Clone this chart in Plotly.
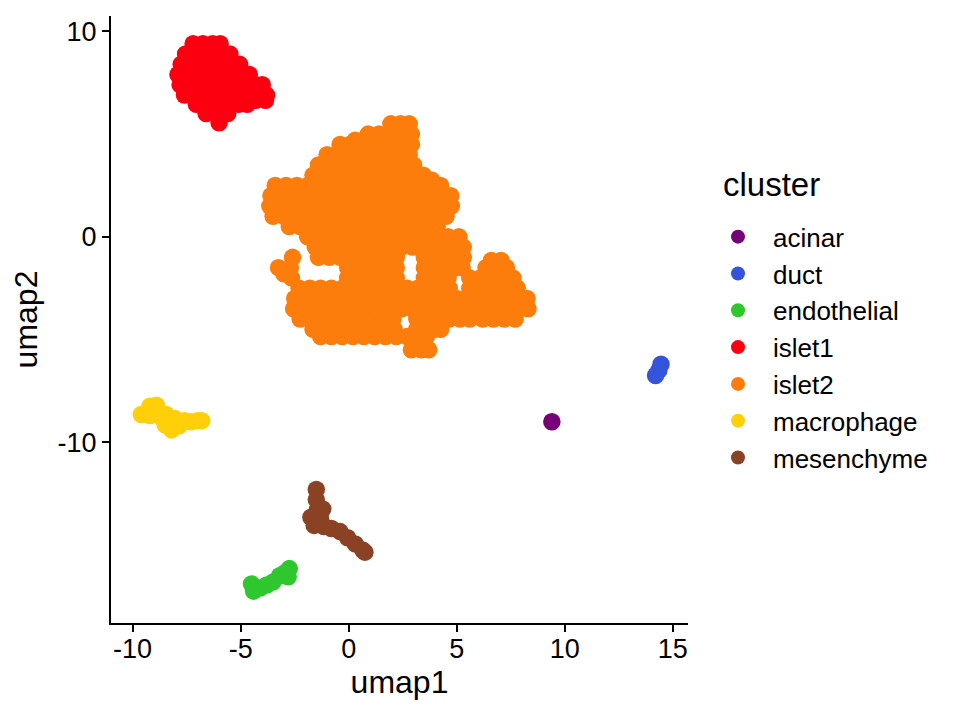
import plotly.graph_objects as go

# ---------------- data ----------------
clusters = ["acinar", "duct", "endothelial", "islet1", "islet2", "macrophage", "mesenchyme"]
colors = ["#770077", "#3454DC", "#2EC82E", "#FC0010", "#FC7D0C", "#FFD00A", "#8B4224"]

acinar_x = [9.4]
acinar_y = [-9.0]

duct_x = [14.45, 14.35, 14.2]
duct_y = [-6.2, -6.5, -6.75]

endothelial_x = [-4.5, -4.4, -4.1, -3.8, -3.5, -3.2, -2.95, -2.75, -2.8]
endothelial_y = [-16.9, -17.25, -17.1, -16.95, -16.8, -16.5, -16.35, -16.15, -16.55]

macrophage_x = [-9.6, -9.2, -8.9, -9.2, -8.8, -8.45, -8.5, -8.2, -8.05, -7.85, -7.6, -7.3, -7.0, -6.8]
macrophage_y = [-8.65, -8.25, -8.2, -8.7, -8.7, -8.65, -9.15, -9.4, -8.85, -9.2, -8.95, -9.0, -8.95, -8.95]

mesenchyme_x = [-1.5, -1.5, -1.45, -1.2, -1.75, -1.3, -1.6, -1.15, -0.8, -0.4, -0.05, 0.3, 0.65, 0.75]
mesenchyme_y = [-12.3, -12.8, -13.3, -13.25, -13.65, -13.75, -14.05, -14.1, -14.2, -14.35, -14.65, -14.95, -15.25, -15.35]

# islet1: rows of (umap2, [umap1 values])
islet1_rows = [
    (9.4, [-7.2, -6.75, -6.3, -5.95]),
    (8.9, [-7.55, -7.05, -6.55, -6.05, -5.5]),
    (8.4, [-7.75, -7.25, -6.75, -6.25, -5.75, -5.25, -5.05]),
    (7.9, [-7.9, -7.4, -6.9, -6.4, -5.9, -5.4, -4.9, -4.6]),
    (7.4, [-7.8, -7.3, -6.8, -6.3, -5.8, -5.3, -4.8, -4.3, -4.0]),
    (6.9, [-7.6, -7.1, -6.6, -6.1, -5.6, -5.1, -4.6, -4.1, -3.8]),
    (6.65, [-4.3, -3.85]),
    (6.45, [-7.05, -6.6, -6.1, -5.6, -5.1, -4.7]),
    (6.0, [-6.6, -6.1, -5.6]),
    (5.55, [-6.0]),
]

# islet2: rows of (umap2, [umap1 values])
islet2_rows = [
    (5.5, [1.95, 2.4, 2.8]),
    (5.0, [0.9, 1.4, 1.9, 2.4, 2.9]),
    (4.7, [0.3]),
    (4.5, [-0.4, 0.05, 0.5, 0.95, 1.45, 1.95, 2.45, 2.9]),
    (4.0, [-1.0, -0.5, 0.0, 0.5, 1.0, 1.5, 2.0, 2.5, 2.8]),
    (3.5, [-1.4, -0.9, -0.4, 0.1, 0.6, 1.1, 1.6, 2.1, 2.6, 3.0]),
    (3.0, [-1.65, -1.15, -0.65, -0.15, 0.35, 0.85, 1.35, 1.85, 2.35, 2.85, 3.45]),
    (2.75, [3.85]),
    (2.5, [-3.4, -2.9, -2.4, -1.9, -1.4, -0.9, -0.4, 0.1, 0.6, 1.1, 1.6, 2.1, 2.6, 3.1, 3.6, 4.0, 4.25]),
    (2.0, [-3.6, -3.1, -2.6, -2.1, -1.6, -1.1, -0.6, -0.1, 0.4, 0.9, 1.4, 1.9, 2.4, 2.9, 3.4, 3.9, 4.35, 4.72]),
    (1.5, [-3.65, -3.15, -2.65, -2.15, -1.65, -1.15, -0.65, -0.15, 0.35, 0.85, 1.35, 1.85, 2.35, 2.85, 3.35, 3.85, 4.35, 4.75]),
    (1.0, [-3.5, -3.0, -2.5, -2.0, -1.5, -1.0, -0.5, 0.0, 0.5, 1.0, 1.5, 2.0, 2.5, 3.0, 3.5, 4.0, 4.5]),
    (0.5, [-2.75, -2.25, -1.75, -1.25, -0.75, -0.25, 0.25, 0.75, 1.25, 1.75, 2.25, 2.75, 3.25, 3.75, 4.1]),
    (0.0, [-1.9, -1.4, -0.9, -0.4, 0.1, 0.6, 1.1, 1.6, 2.1, 2.6, 3.1, 3.6, 4.1, 4.6, 5.1]),
    (-0.5, [-1.55, -1.05, -0.55, -0.05, 0.45, 0.95, 1.45, 1.95, 2.45, 2.95, 3.45, 3.95, 4.45, 4.9, 5.3]),
    (-1.0, [-2.6, -1.4, -0.9, -0.4, 0.1, 0.6, 1.1, 1.6, 2.2, 3.5, 4.0, 4.5, 4.95, 5.3]),
    (-1.15, [6.6, 7.05]),
    (-1.5, [-3.25, -2.7, -0.05, 0.45, 0.95, 1.45, 1.95, 2.2, 3.5, 4.0, 4.5, 4.95, 5.25, 6.35, 6.85, 7.3]),
    (-1.8, [-3.0]),
    (-2.0, [-2.65, -0.05, 0.45, 0.95, 1.45, 1.95, 2.2, 3.5, 4.0, 4.6, 5.6, 6.1, 6.6, 7.1, 7.6]),
    (-2.5, [-2.3, -1.8, -1.3, -0.8, -0.3, 0.2, 0.7, 1.2, 1.7, 2.2, 2.7, 3.2, 3.7, 4.2, 4.65, 5.6, 6.1, 6.6, 7.1, 7.5, 7.8]),
    (-3.0, [-2.5, -2.0, -1.5, -1.0, -0.5, 0.0, 0.5, 1.0, 1.5, 2.0, 2.5, 3.0, 3.5, 4.0, 4.5, 5.0, 5.5, 6.0, 6.5, 7.0, 7.5, 8.0, 8.25]),
    (-3.5, [-2.55, -2.05, -1.55, -1.05, -0.55, -0.05, 0.45, 0.95, 1.45, 1.95, 2.45, 2.95, 3.45, 3.95, 4.45, 4.95, 5.45, 5.95, 6.45, 6.95, 7.45, 7.9, 8.3]),
    (-4.0, [-2.25, -1.75, -1.25, -0.75, -0.25, 0.25, 0.75, 1.25, 1.65, 2.05, 3.15, 3.65, 4.15, 4.65, 5.15, 5.6, 6.2, 6.7, 7.2, 7.7]),
    (-4.5, [-1.65, -1.15, -0.65, -0.15, 0.35, 0.85, 1.35, 1.75, 2.1, 3.15, 3.55, 3.95, 4.25]),
    (-4.85, [-1.3, -0.8, -0.3, 0.2, 0.7, 1.2, 1.7, 2.2, 2.7, 3.2, 3.6]),
    (-5.5, [2.9, 3.35, 3.7]),
]

x_ticks = [-10, -5, 0, 5, 10, 15]
x_ticklabels = ["-10", "-5", "0", "5", "10", "15"]
y_ticks = [-10, 0, 10]
y_ticklabels = ["-10", "0", "10"]


def flatten(rows):
    xs, ys = [], []
    for yv, xrow in rows:
        for xv in xrow:
            xs.append(xv)
            ys.append(yv)
    return xs, ys


islet1_x, islet1_y = flatten(islet1_rows)
islet2_x, islet2_y = flatten(islet2_rows)

series = {
    "acinar": (acinar_x, acinar_y),
    "duct": (duct_x, duct_y),
    "endothelial": (endothelial_x, endothelial_y),
    "islet1": (islet1_x, islet1_y),
    "islet2": (islet2_x, islet2_y),
    "macrophage": (macrophage_x, macrophage_y),
    "mesenchyme": (mesenchyme_x, mesenchyme_y),
}

FONT = "Liberation Sans, Arial, Helvetica, sans-serif"

fig = go.Figure()
for name, col in zip(clusters, colors):
    xs, ys = series[name]
    fig.add_trace(go.Scatter(
        x=xs, y=ys, mode="markers", name=name, showlegend=False,
        marker=dict(size=17.5, color=col, line=dict(width=0)),
        hoverinfo="skip",
    ))
# legend entries (smaller key symbols, as in the reference)
for name, col in zip(clusters, colors):
    fig.add_trace(go.Scatter(
        x=[None], y=[None], mode="markers", name=name, showlegend=True,
        marker=dict(size=14, color=col, line=dict(width=0)),
    ))

axis_common = dict(
    showline=True, linecolor="black", linewidth=2,
    ticks="outside", ticklen=7, tickwidth=2, tickcolor="black",
    showgrid=False, zeroline=False,
    tickfont=dict(family=FONT, size=27, color="black"),
)

fig.update_layout(
    width=960, height=720,
    margin=dict(l=103, r=280, t=8, b=105),
    paper_bgcolor="white", plot_bgcolor="white",
    font=dict(family=FONT, color="black"),
    xaxis=dict(range=[-11.0, 15.7], tickvals=x_ticks, ticktext=x_ticklabels,
               ticklabelstandoff=-6,
               title=dict(text="umap1", font=dict(size=32), standoff=6),
               **axis_common),
    yaxis=dict(range=[-18.8, 10.75], tickvals=y_ticks, ticktext=y_ticklabels,
               ticklabelstandoff=0,
               title=dict(text="umap2", font=dict(size=32), standoff=10),
               **axis_common),
    legend=dict(
        x=1.026, xanchor="left", y=0.675, yanchor="top",
        font=dict(size=26),
        itemwidth=60, tracegroupgap=0,
        bgcolor="rgba(0,0,0,0)",
    ),
    annotations=[dict(
        text="cluster", xref="paper", yref="paper", x=1.057, y=0.7216,
        xanchor="left", yanchor="middle", showarrow=False,
        font=dict(size=33, family=FONT, color="black"),
    )],
)

fig.write_html("out.html")
